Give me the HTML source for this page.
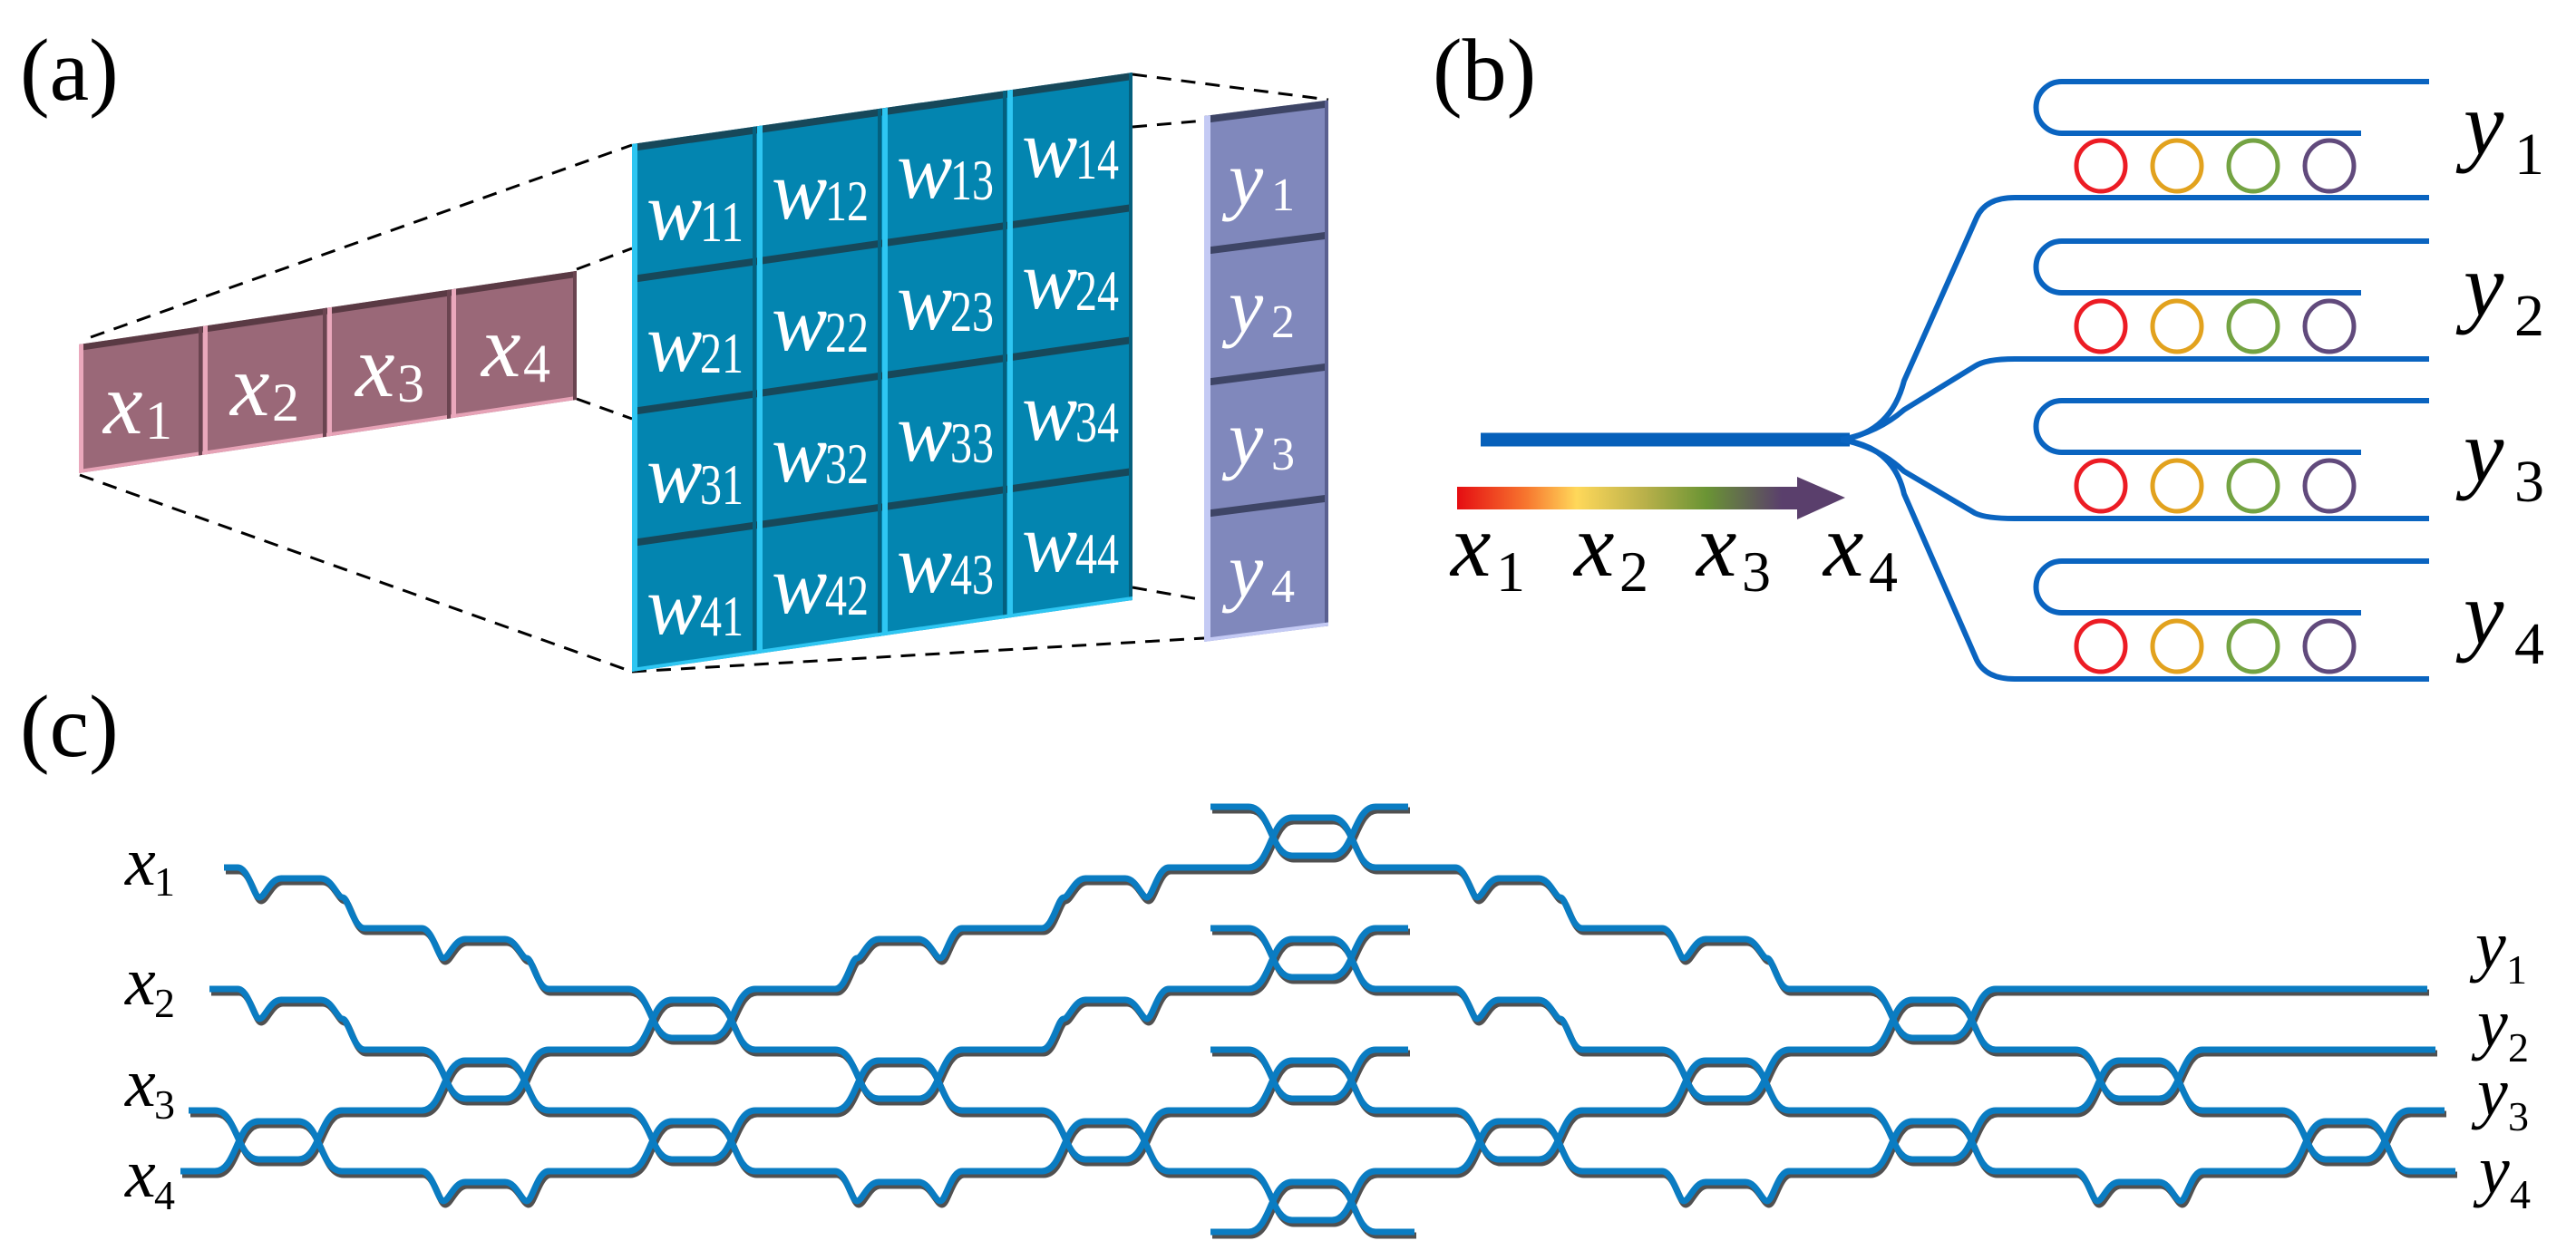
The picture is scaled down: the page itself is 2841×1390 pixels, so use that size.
<!DOCTYPE html>
<html><head><meta charset="utf-8"><style>
html,body{margin:0;padding:0;background:#fff;}
svg{display:block;}
</style></head><body>
<svg width="2841" height="1390" viewBox="0 0 2841 1390" xmlns="http://www.w3.org/2000/svg">
<defs>
<linearGradient id="rb" x1="0" x2="1" y1="0" y2="0">
<stop offset="0" stop-color="#e50d12"/>
<stop offset="0.2" stop-color="#f7752e"/>
<stop offset="0.35" stop-color="#ffd85a"/>
<stop offset="0.55" stop-color="#b8b04a"/>
<stop offset="0.73" stop-color="#6a9434"/>
<stop offset="0.95" stop-color="#5a3f6c"/>
<stop offset="1" stop-color="#5a3f6c"/>
</linearGradient>
<g id="mesh" fill="none" stroke-width="7" stroke-linejoin="round" stroke-linecap="butt">
<path d="M237,1225 c24,0 24,54 48,54 h44 c24,0 24,-54 48,-54"/>
<path d="M237,1292 c24,0 24,-55 48,-55 h44 c24,0 24,55 48,55"/>
<path d="M262,957 c12,0 18,33 24,33 c6,0 12,-21 24,-21 h44 c12,0 18,21 24,21 c6,0 12,34 24,34"/>
<path d="M262,1091 c12,0 18,33 24,33 c6,0 12,-21 24,-21 h44 c12,0 18,21 24,21 c6,0 12,34 24,34"/>
<path d="M465,1158 c24,0 24,54 48,54 h44 c24,0 24,-54 48,-54"/>
<path d="M465,1225 c24,0 24,-55 48,-55 h44 c24,0 24,55 48,55"/>
<path d="M465,1024 c12,0 18,33 24,33 c6,0 12,-21 24,-21 h44 c12,0 18,21 24,21 c6,0 12,34 24,34"/>
<path d="M465,1292 c12,0 18,33 24,33 c6,0 12,-21 24,-21 h44 c12,0 18,21 24,21 c6,0 12,-33 24,-33"/>
<path d="M693,1091 c24,0 24,54 48,54 h44 c24,0 24,-54 48,-54"/>
<path d="M693,1158 c24,0 24,-55 48,-55 h44 c24,0 24,55 48,55"/>
<path d="M693,1225 c24,0 24,54 48,54 h44 c24,0 24,-54 48,-54"/>
<path d="M693,1292 c24,0 24,-55 48,-55 h44 c24,0 24,55 48,55"/>
<path d="M921,1158 c24,0 24,54 48,54 h44 c24,0 24,-54 48,-54"/>
<path d="M921,1225 c24,0 24,-55 48,-55 h44 c24,0 24,55 48,55"/>
<path d="M921,1091 c12,0 18,-34 24,-34 c6,0 12,-21 24,-21 h44 c12,0 18,21 24,21 c6,0 12,-33 24,-33"/>
<path d="M921,1292 c12,0 18,33 24,33 c6,0 12,-21 24,-21 h44 c12,0 18,21 24,21 c6,0 12,-33 24,-33"/>
<path d="M1149,1225 c24,0 24,54 48,54 h44 c24,0 24,-54 48,-54"/>
<path d="M1149,1292 c24,0 24,-55 48,-55 h44 c24,0 24,55 48,55"/>
<path d="M1149,1024 c12,0 18,-34 24,-34 c6,0 12,-21 24,-21 h44 c12,0 18,21 24,21 c6,0 12,-33 24,-33"/>
<path d="M1149,1158 c12,0 18,-34 24,-34 c6,0 12,-21 24,-21 h44 c12,0 18,21 24,21 c6,0 12,-33 24,-33"/>
<path d="M1335,890 H1377 c24,0 24,54 48,54 h44 c24,0 24,-54 48,-54 H1553"/>
<path d="M1377,957 c24,0 24,-55 48,-55 h44 c24,0 24,55 48,55"/>
<path d="M1335,1024 H1377 c24,0 24,54 48,54 h44 c24,0 24,-54 48,-54 H1553"/>
<path d="M1377,1091 c24,0 24,-55 48,-55 h44 c24,0 24,55 48,55"/>
<path d="M1335,1158 H1377 c24,0 24,54 48,54 h44 c24,0 24,-54 48,-54 H1553"/>
<path d="M1377,1225 c24,0 24,-55 48,-55 h44 c24,0 24,55 48,55"/>
<path d="M1377,1292 c24,0 24,54 48,54 h44 c24,0 24,-54 48,-54"/>
<path d="M1335,1359 H1377 c24,0 24,-55 48,-55 h44 c24,0 24,55 48,55 H1560"/>
<path d="M1605,1225 c24,0 24,54 48,54 h44 c24,0 24,-54 48,-54"/>
<path d="M1605,1292 c24,0 24,-55 48,-55 h44 c24,0 24,55 48,55"/>
<path d="M1605,957 c12,0 18,33 24,33 c6,0 12,-21 24,-21 h44 c12,0 18,21 24,21 c6,0 12,34 24,34"/>
<path d="M1605,1091 c12,0 18,33 24,33 c6,0 12,-21 24,-21 h44 c12,0 18,21 24,21 c6,0 12,34 24,34"/>
<path d="M1833,1158 c24,0 24,54 48,54 h44 c24,0 24,-54 48,-54"/>
<path d="M1833,1225 c24,0 24,-55 48,-55 h44 c24,0 24,55 48,55"/>
<path d="M1833,1024 c12,0 18,33 24,33 c6,0 12,-21 24,-21 h44 c12,0 18,21 24,21 c6,0 12,34 24,34"/>
<path d="M1833,1292 c12,0 18,33 24,33 c6,0 12,-21 24,-21 h44 c12,0 18,21 24,21 c6,0 12,-33 24,-33"/>
<path d="M2061,1091 c24,0 24,54 48,54 h44 c24,0 24,-54 48,-54"/>
<path d="M2061,1158 c24,0 24,-55 48,-55 h44 c24,0 24,55 48,55"/>
<path d="M2061,1225 c24,0 24,54 48,54 h44 c24,0 24,-54 48,-54"/>
<path d="M2061,1292 c24,0 24,-55 48,-55 h44 c24,0 24,55 48,55"/>
<path d="M2289,1158 c24,0 24,54 48,54 h44 c24,0 24,-54 48,-54"/>
<path d="M2289,1225 c24,0 24,-55 48,-55 h44 c24,0 24,55 48,55"/>
<path d="M2289,1292 c12,0 18,33 24,33 c6,0 12,-21 24,-21 h44 c12,0 18,21 24,21 c6,0 12,-33 24,-33"/>
<path d="M2517,1225 c24,0 24,54 48,54 h44 c24,0 24,-54 48,-54"/>
<path d="M2517,1292 c24,0 24,-55 48,-55 h44 c24,0 24,55 48,55"/>
<path d="M247,957 H262 M1289,957 H1377 M1517,957 H1605"/>
<path d="M402,1024 H465 M1061,1024 H1149 M1745,1024 H1833"/>
<path d="M231,1091 H262 M605,1091 H693 M833,1091 H921 M1289,1091 H1377 M1517,1091 H1605 M1973,1091 H2061 M2201,1091 H2677"/>
<path d="M402,1158 H465 M605,1158 H693 M833,1158 H921 M1061,1158 H1149 M1745,1158 H1833 M1973,1158 H2061 M2201,1158 H2289 M2429,1158 H2686"/>
<path d="M208,1225 H237 M377,1225 H465 M605,1225 H693 M833,1225 H921 M1061,1225 H1149 M1289,1225 H1377 M1517,1225 H1605 M1745,1225 H1833 M1973,1225 H2061 M2201,1225 H2289 M2429,1225 H2517 M2657,1225 H2696"/>
<path d="M199,1292 H237 M377,1292 H465 M605,1292 H693 M833,1292 H921 M1061,1292 H1149 M1289,1292 H1377 M1517,1292 H1605 M1745,1292 H1833 M1973,1292 H2061 M2201,1292 H2289 M2429,1292 H2517 M2657,1292 H2708"/>
</g>
</defs>

<g font-family="'Liberation Serif', serif" fill="#000">
<text x="22" y="110" font-size="98">(a)</text>
<text x="1580" y="110" font-size="98">(b)</text>
<text x="22" y="834" font-size="98">(c)</text>
</g>

<g stroke="#000" stroke-width="3" stroke-dasharray="16 11" fill="none">
<line x1="100" y1="372" x2="697" y2="160"/>
<line x1="88" y1="524" x2="697" y2="741"/>
<line x1="636" y1="297" x2="697" y2="274"/>
<line x1="636" y1="440" x2="697" y2="462"/>
<line x1="1249" y1="82" x2="1465" y2="110"/>
<line x1="1249" y1="140" x2="1328" y2="133"/>
<line x1="1249" y1="648" x2="1328" y2="662"/>
<line x1="697" y1="741" x2="1328" y2="704"/>
</g>

<g transform="translate(87,380) skewY(-8.4)">
<rect x="0" y="0" width="549" height="142" fill="#9a6878"/>
<rect x="0" y="0" width="549" height="7" fill="#5a3a44"/>
<rect x="0" y="138" width="549" height="4" fill="#e6a2b6"/>
<rect x="0" y="0" width="5" height="142" fill="#eaa8bc"/>
<rect x="137" y="0" width="5" height="142" fill="#eaa8bc"/>
<rect x="274" y="0" width="5" height="142" fill="#eaa8bc"/>
<rect x="411" y="0" width="5" height="142" fill="#eaa8bc"/>
<rect x="132" y="0" width="4" height="142" fill="#6a4450"/>
<rect x="269" y="0" width="4" height="142" fill="#6a4450"/>
<rect x="406" y="0" width="4" height="142" fill="#6a4450"/>
<rect x="545" y="0" width="4" height="142" fill="#6a4450"/>
</g>
<g font-family="'Liberation Serif', serif" fill="#fff" font-size="98">
<text x="114" y="478" font-style="italic">x</text><text x="160" y="484" font-size="60">1</text>
<text x="254" y="458" font-style="italic">x</text><text x="300" y="464" font-size="60">2</text>
<text x="392" y="437" font-style="italic">x</text><text x="438" y="443" font-size="60">3</text>
<text x="531" y="415" font-style="italic">x</text><text x="577" y="421" font-size="60">4</text>
</g>

<g transform="translate(697,159) skewY(-8.15)">
<rect x="0" y="0" width="552" height="582" fill="#0385b0"/>
<rect x="0" y="0" width="552" height="8" fill="#17485a"/>
<rect x="0" y="145" width="552" height="8" fill="#17485a"/>
<rect x="0" y="291" width="552" height="8" fill="#17485a"/>
<rect x="0" y="436" width="552" height="8" fill="#17485a"/>
<rect x="0" y="0" width="6" height="582" fill="#2ec6f2"/>
<rect x="138" y="0" width="6" height="582" fill="#2ec6f2"/>
<rect x="276" y="0" width="6" height="582" fill="#2ec6f2"/>
<rect x="414" y="0" width="6" height="582" fill="#2ec6f2"/>
<rect x="133" y="0" width="4" height="582" fill="#04607e"/>
<rect x="271" y="0" width="4" height="582" fill="#04607e"/>
<rect x="409" y="0" width="4" height="582" fill="#04607e"/>
<rect x="548" y="0" width="4" height="582" fill="#04607e"/>
<rect x="0" y="578" width="552" height="4" fill="#2ec6f2"/>
</g>
<g font-family="'Liberation Serif', serif" fill="#fff" font-size="92">
<g font-style="italic">
<text x="713" y="264">w</text><text x="851" y="241">w</text><text x="989" y="218">w</text><text x="1127" y="195">w</text>
<text x="713" y="409">w</text><text x="851" y="386">w</text><text x="989" y="363">w</text><text x="1127" y="340">w</text>
<text x="713" y="554">w</text><text x="851" y="531">w</text><text x="989" y="508">w</text><text x="1127" y="485">w</text>
<text x="713" y="699">w</text><text x="851" y="676">w</text><text x="989" y="653">w</text><text x="1127" y="630">w</text>
</g>
<g font-size="64">
<text x="772" y="266" textLength="48" lengthAdjust="spacingAndGlyphs">11</text>
<text x="910" y="243" textLength="48" lengthAdjust="spacingAndGlyphs">12</text>
<text x="1048" y="220" textLength="48" lengthAdjust="spacingAndGlyphs">13</text>
<text x="1186" y="197" textLength="48" lengthAdjust="spacingAndGlyphs">14</text>
<text x="772" y="411" textLength="48" lengthAdjust="spacingAndGlyphs">21</text>
<text x="910" y="388" textLength="48" lengthAdjust="spacingAndGlyphs">22</text>
<text x="1048" y="365" textLength="48" lengthAdjust="spacingAndGlyphs">23</text>
<text x="1186" y="342" textLength="48" lengthAdjust="spacingAndGlyphs">24</text>
<text x="772" y="556" textLength="48" lengthAdjust="spacingAndGlyphs">31</text>
<text x="910" y="533" textLength="48" lengthAdjust="spacingAndGlyphs">32</text>
<text x="1048" y="510" textLength="48" lengthAdjust="spacingAndGlyphs">33</text>
<text x="1186" y="487" textLength="48" lengthAdjust="spacingAndGlyphs">34</text>
<text x="772" y="701" textLength="48" lengthAdjust="spacingAndGlyphs">41</text>
<text x="910" y="678" textLength="48" lengthAdjust="spacingAndGlyphs">42</text>
<text x="1048" y="655" textLength="48" lengthAdjust="spacingAndGlyphs">43</text>
<text x="1186" y="632" textLength="48" lengthAdjust="spacingAndGlyphs">44</text>
</g>
</g>

<g transform="translate(1328,128) skewY(-7.3)">
<rect x="0" y="0" width="137" height="580" fill="#8088bc"/>
<rect x="0" y="0" width="137" height="8" fill="#3e4566"/>
<rect x="0" y="145" width="137" height="8" fill="#3e4566"/>
<rect x="0" y="290" width="137" height="8" fill="#3e4566"/>
<rect x="0" y="435" width="137" height="8" fill="#3e4566"/>
<rect x="0" y="0" width="7" height="580" fill="#c4caf4"/>
<rect x="133" y="0" width="4" height="580" fill="#5a6090"/>
<rect x="0" y="576" width="137" height="4" fill="#c4caf4"/>
</g>
<g font-family="'Liberation Serif', serif" fill="#fff" font-size="86">
<text x="1355" y="226" font-style="italic">y</text><text x="1402" y="232" font-size="52">1</text>
<text x="1355" y="366" font-style="italic">y</text><text x="1402" y="372" font-size="52">2</text>
<text x="1355" y="512" font-style="italic">y</text><text x="1402" y="518" font-size="52">3</text>
<text x="1355" y="658" font-style="italic">y</text><text x="1402" y="664" font-size="52">4</text>
</g>

<line x1="1633" y1="485" x2="2040" y2="485" stroke="#0660ba" stroke-width="15"/>
<g fill="none" stroke="#0a64c0" stroke-width="6">
<path d="M2030,485 Q2085,478 2100,420 L2180,240 Q2190,218 2222,218 H2679"/>
<path d="M2030,485 Q2070,478 2100,452 L2178,404 Q2190,396 2222,396 H2679"/>
<path d="M2030,485 Q2070,492 2100,520 L2178,566 Q2190,572 2222,572 H2679"/>
<path d="M2030,485 Q2088,492 2100,545 L2180,728 Q2190,749 2222,749 H2679"/>
<path d="M2679,90 H2274 A28.5,28.5 0 0 0 2274,147 H2604"/>
<path d="M2679,266 H2274 A28.5,28.5 0 0 0 2274,323 H2604"/>
<path d="M2679,442 H2274 A28.5,28.5 0 0 0 2274,499 H2604"/>
<path d="M2679,619 H2274 A28.5,28.5 0 0 0 2274,676 H2604"/>
</g>
<g fill="none" stroke-width="5">
<g>
<ellipse cx="2317" cy="183" rx="27" ry="28" stroke="#ec1c24"/>
<ellipse cx="2401" cy="183" rx="27" ry="28" stroke="#e2a21e"/>
<ellipse cx="2485" cy="183" rx="27" ry="28" stroke="#74a343"/>
<ellipse cx="2569" cy="183" rx="27" ry="28" stroke="#614a7c"/>
</g>
<g transform="translate(0,177)">
<ellipse cx="2317" cy="183" rx="27" ry="28" stroke="#ec1c24"/>
<ellipse cx="2401" cy="183" rx="27" ry="28" stroke="#e2a21e"/>
<ellipse cx="2485" cy="183" rx="27" ry="28" stroke="#74a343"/>
<ellipse cx="2569" cy="183" rx="27" ry="28" stroke="#614a7c"/>
</g>
<g transform="translate(0,353)">
<ellipse cx="2317" cy="183" rx="27" ry="28" stroke="#ec1c24"/>
<ellipse cx="2401" cy="183" rx="27" ry="28" stroke="#e2a21e"/>
<ellipse cx="2485" cy="183" rx="27" ry="28" stroke="#74a343"/>
<ellipse cx="2569" cy="183" rx="27" ry="28" stroke="#614a7c"/>
</g>
<g transform="translate(0,530)">
<ellipse cx="2317" cy="183" rx="27" ry="28" stroke="#ec1c24"/>
<ellipse cx="2401" cy="183" rx="27" ry="28" stroke="#e2a21e"/>
<ellipse cx="2485" cy="183" rx="27" ry="28" stroke="#74a343"/>
<ellipse cx="2569" cy="183" rx="27" ry="28" stroke="#614a7c"/>
</g>
</g>
<rect x="1607" y="537" width="377" height="25" fill="url(#rb)"/>
<polygon points="1982,526 2035,549 1982,573" fill="#5a3f6c"/>
<g font-family="'Liberation Serif', serif" fill="#000" font-size="100">
<text x="1600" y="635" font-style="italic">x</text><text x="1650" y="652" font-size="64">1</text>
<text x="1736" y="635" font-style="italic">x</text><text x="1786" y="652" font-size="64">2</text>
<text x="1871" y="635" font-style="italic">x</text><text x="1921" y="652" font-size="64">3</text>
<text x="2011" y="635" font-style="italic">x</text><text x="2061" y="652" font-size="64">4</text>
<text x="2717" y="170" font-style="italic">y</text><text x="2773" y="192" font-size="66">1</text>
<text x="2717" y="348" font-style="italic">y</text><text x="2773" y="370" font-size="66">2</text>
<text x="2717" y="531" font-style="italic">y</text><text x="2773" y="553" font-size="66">3</text>
<text x="2717" y="710" font-style="italic">y</text><text x="2773" y="732" font-size="66">4</text>
</g>

<use href="#mesh" stroke="#505050" transform="translate(2,4)"/>
<use href="#mesh" stroke="#0a7cc2"/>
<g font-family="'Liberation Serif', serif" fill="#000" font-size="76">
<text x="138" y="976" font-style="italic">x</text><text x="170" y="988" font-size="46">1</text>
<text x="138" y="1108" font-style="italic">x</text><text x="170" y="1122" font-size="46">2</text>
<text x="138" y="1220" font-style="italic">x</text><text x="170" y="1234" font-size="46">3</text>
<text x="138" y="1320" font-style="italic">x</text><text x="170" y="1334" font-size="46">4</text>
<text x="2730" y="1068" font-style="italic">y</text><text x="2764" y="1085" font-size="46">1</text>
<text x="2732" y="1154" font-style="italic">y</text><text x="2766" y="1171" font-size="46">2</text>
<text x="2732" y="1230" font-style="italic">y</text><text x="2766" y="1247" font-size="46">3</text>
<text x="2734" y="1316" font-style="italic">y</text><text x="2768" y="1333" font-size="46">4</text>
</g>
</svg>
</body></html>
